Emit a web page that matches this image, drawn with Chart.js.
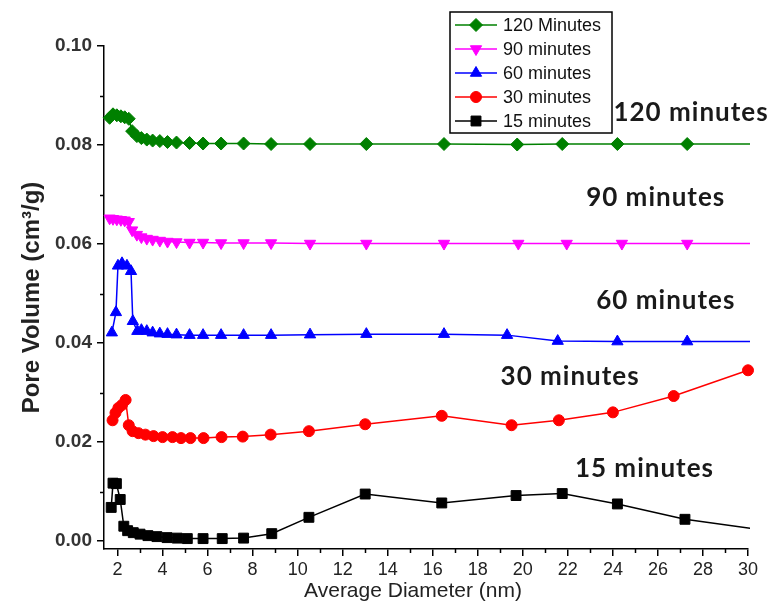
<!DOCTYPE html>
<html>
<head>
<meta charset="utf-8">
<script src="https://cdn.jsdelivr.net/npm/chart.js@4/dist/chart.umd.min.js"></script>
<style>
  html, body { margin: 0; padding: 0; background: #fff; }
  #wrap { width: 768px; height: 605px; position: relative; }
</style>
</head>
<body>
<div id="wrap"><canvas id="c" width="768" height="605"></canvas></div>
<script>
// Pore size distribution (BJH) after different treatment times
const seriesLabels = ['120 Minutes', '90 minutes', '60 minutes', '30 minutes', '15 minutes'];
const curveNames = ['120 minutes', '90 minutes', '60 minutes', '30 minutes', '15 minutes'];

// average diameter (nm) and pore volume (cm3/g) per series
const diam120 = [1.65, 1.8, 1.97, 2.15, 2.32, 2.5, 2.65, 2.86, 3.06, 3.3, 3.56, 3.88, 4.22, 4.62, 5.2, 5.8, 6.6, 7.6, 8.82, 10.55, 13.05, 16.5, 19.75, 21.75, 24.2, 27.3, 31.0];
const vol120  = [0.0855, 0.0862, 0.0860, 0.0858, 0.0856, 0.0853, 0.0828, 0.0818, 0.0814, 0.0811, 0.0809, 0.0808, 0.0806, 0.0805, 0.0804, 0.0803, 0.0803, 0.0803, 0.0802, 0.0802, 0.0802, 0.0802, 0.0801, 0.0802, 0.0802, 0.0802, 0.0802];

const diam90 = [1.65, 1.8, 1.97, 2.15, 2.32, 2.5, 2.65, 2.86, 3.06, 3.3, 3.56, 3.88, 4.22, 4.62, 5.2, 5.8, 6.6, 7.6, 8.82, 10.55, 13.05, 16.5, 19.8, 21.95, 24.4, 27.3, 31.0];
const vol90  = [0.0652, 0.0651, 0.0650, 0.0649, 0.0648, 0.0645, 0.0628, 0.0619, 0.0614, 0.0611, 0.0609, 0.0607, 0.0605, 0.0604, 0.0603, 0.0603, 0.0602, 0.0602, 0.0602, 0.0601, 0.0601, 0.0601, 0.0601, 0.0601, 0.0601, 0.0601, 0.0601];

const diam60 = [1.75, 1.93, 2.02, 2.2, 2.42, 2.6, 2.68, 2.88, 3.06, 3.3, 3.56, 3.88, 4.22, 4.62, 5.2, 5.8, 6.6, 7.6, 8.82, 10.55, 13.05, 16.5, 19.3, 21.55, 24.2, 27.3, 31.0];
const vol60  = [0.0421, 0.0462, 0.0556, 0.0561, 0.0556, 0.0545, 0.0444, 0.0424, 0.0426, 0.0424, 0.0421, 0.0419, 0.0418, 0.0417, 0.0416, 0.0416, 0.0416, 0.0416, 0.0416, 0.0417, 0.0418, 0.0418, 0.0416, 0.0404, 0.0403, 0.0403, 0.0403];

const diam30 = [1.78, 1.91, 2.04, 2.2, 2.36, 2.5, 2.67, 2.93, 3.24, 3.6, 4.0, 4.44, 4.82, 5.24, 5.82, 6.62, 7.56, 8.8, 10.5, 13.0, 16.4, 19.5, 21.6, 24.0, 26.7, 30.0];
const vol30  = [0.0244, 0.0259, 0.0269, 0.0275, 0.0285, 0.0234, 0.0222, 0.0218, 0.0215, 0.0212, 0.0210, 0.0210, 0.0208, 0.0208, 0.0208, 0.0210, 0.0211, 0.0215, 0.0222, 0.0236, 0.0253, 0.0234, 0.0244, 0.0260, 0.0293, 0.0345];

const diam15 = [1.72, 1.8, 1.95, 2.12, 2.28, 2.45, 2.7, 3.0, 3.35, 3.75, 4.2, 4.65, 5.1, 5.8, 6.65, 7.6, 8.85, 10.5, 13.0, 16.4, 19.7, 21.75, 24.2, 27.2, 31.0];
const vol15  = [0.0068, 0.0117, 0.0116, 0.0084, 0.0030, 0.0021, 0.0017, 0.0014, 0.0011, 0.0009, 0.0007, 0.0006, 0.0005, 0.0005, 0.0005, 0.0006, 0.0015, 0.0048, 0.0095, 0.0077, 0.0092, 0.0096, 0.0075, 0.0044, 0.0020];

// axis ticks
const xTicks = [2, 4, 6, 8, 10, 12, 14, 16, 18, 20, 22, 24, 26, 28, 30];
const xMinorTicks = [3, 5, 7, 9, 11, 13, 15, 17, 19, 21, 23, 25, 27, 29];
const yTicks = [0, 0.02, 0.04, 0.06, 0.08, 0.10];
const yMinorTicks = [0.01, 0.03, 0.05, 0.07, 0.09];

const pairs = (xs, ys) => xs.map((x, i) => ({ x: x, y: ys[i] }));

const SANS = "'Liberation Sans', Arial, sans-serif";
const LABEL_FONT = "Lato, 'Open Sans', sans-serif";

const styles = [
  { color: '#008000', pointStyle: 'rectRot', radius: 6.5, rotation: 0 },
  { color: '#ff00ff', pointStyle: 'triangle', radius: 6.5, rotation: 180 },
  { color: '#0000ff', pointStyle: 'triangle', radius: 6.5, rotation: 0 },
  { color: '#ff0000', pointStyle: 'circle', radius: 5.5, rotation: 0 },
  { color: '#000000', pointStyle: 'rect', radius: 7, rotation: 0 }
];
const seriesData = [
  pairs(diam120, vol120), pairs(diam90, vol90), pairs(diam60, vol60),
  pairs(diam30, vol30), pairs(diam15, vol15)
];

const datasets = seriesData.map((d, i) => ({
  label: seriesLabels[i],
  data: d,
  borderColor: styles[i].color,
  backgroundColor: styles[i].color,
  pointBackgroundColor: styles[i].color,
  pointBorderColor: styles[i].color,
  pointStyle: styles[i].pointStyle,
  pointRadius: styles[i].radius,
  pointRotation: styles[i].rotation,
  pointBorderWidth: 1,
  borderWidth: 1.5,
  tension: 0,
  fill: false,
  clip: i === 3 ? 8 : { left: 10, top: 10, right: 2, bottom: 10 }
}));

// curve labels placed in data coordinates, plus minor ticks, legend and x title
const curveLabelAnchors = [
  [27.47, 0.0865], [25.9, 0.0693], [26.35, 0.0485], [22.1, 0.0333], [25.4, 0.0147]
];

const extras = {
  id: 'extras',
  afterDraw(chart) {
    const ctx = chart.ctx;
    const xs = chart.scales.x, ys = chart.scales.y;
    const area = chart.chartArea;
    ctx.save();

    // minor ticks
    ctx.strokeStyle = '#000';
    ctx.lineWidth = 1.5;
    ctx.beginPath();
    xMinorTicks.forEach(v => {
      const px = Math.round(xs.getPixelForValue(v)) + 0.5;
      ctx.moveTo(px, area.bottom);
      ctx.lineTo(px, area.bottom + 4);
    });
    yMinorTicks.forEach(v => {
      const py = Math.round(ys.getPixelForValue(v)) + 0.5;
      ctx.moveTo(area.left, py);
      ctx.lineTo(area.left - 4, py);
    });
    ctx.stroke();

    // curve labels
    ctx.fillStyle = '#1a1a1a';
    ctx.font = "bold 26px " + LABEL_FONT;
    ctx.letterSpacing = '1px';
    ctx.textAlign = 'center';
    ctx.textBaseline = 'middle';
    curveNames.forEach((t, i) => {
      ctx.fillText(t, xs.getPixelForValue(curveLabelAnchors[i][0]), ys.getPixelForValue(curveLabelAnchors[i][1]));
    });
    ctx.letterSpacing = '0px';

    // x axis title
    ctx.fillStyle = '#222';
    ctx.font = "21px " + SANS;
    ctx.fillText('Average Diameter (nm)', 413, 591);

    // legend
    const box = { left: 450, top: 12, right: 612, bottom: 133 };
    ctx.fillStyle = '#fff';
    ctx.fillRect(box.left, box.top, box.right - box.left, box.bottom - box.top);
    ctx.strokeStyle = '#000';
    ctx.lineWidth = 1.5;
    ctx.strokeRect(box.left, box.top, box.right - box.left, box.bottom - box.top);
    ctx.font = "18px " + SANS;
    ctx.textAlign = 'left';
    chart.data.datasets.forEach((ds, i) => {
      const y = 25 + i * 24;
      ctx.strokeStyle = ds.borderColor;
      ctx.lineWidth = 1.5;
      ctx.beginPath();
      ctx.moveTo(455, y);
      ctx.lineTo(497, y);
      ctx.stroke();
      ctx.fillStyle = ds.pointBackgroundColor;
      ctx.strokeStyle = ds.pointBorderColor;
      ctx.lineWidth = 1;
      Chart.helpers.drawPoint(ctx, {
        pointStyle: ds.pointStyle, radius: ds.pointRadius,
        rotation: ds.pointRotation, borderWidth: 1
      }, 476, y);
      ctx.fillStyle = '#111';
      ctx.fillText(ds.label, 503, y + 1);
    });
    ctx.restore();
  }
};

new Chart(document.getElementById('c'), {
  type: 'line',
  data: { datasets: datasets },
  plugins: [extras],
  options: {
    responsive: false,
    animation: false,
    devicePixelRatio: 1,
    layout: { padding: { left: 18, right: 20, top: 46, bottom: 2 } },
    plugins: { legend: { display: false }, tooltip: { enabled: false } },
    scales: {
      x: {
        type: 'linear',
        min: 1.4,
        max: 30,
        afterBuildTicks: s => { s.ticks = xTicks.map(v => ({ value: v })); },
        afterFit: s => { s.height = 54; },
        grid: { drawOnChartArea: false, drawTicks: true, tickLength: 7, color: '#000', lineWidth: 1.5 },
        border: { display: true, color: '#000', width: 1.5 },
        ticks: {
          autoSkip: false, maxRotation: 0, padding: 3,
          color: '#222',
          font: { family: SANS, size: 18 },
          callback: v => String(v)
        }
      },
      y: {
        type: 'linear',
        min: -0.0016,
        max: 0.1,
        afterBuildTicks: s => { s.ticks = yTicks.map(v => ({ value: v })); },
        afterFit: s => { s.width = 86; },
        grid: { drawOnChartArea: false, drawTicks: true, tickLength: 7, color: '#000', lineWidth: 1.5 },
        border: { display: true, color: '#000', width: 1.5 },
        ticks: {
          padding: 5,
          color: '#333',
          font: { family: SANS, size: 19, weight: 'bold' },
          callback: v => v.toFixed(2)
        },
        title: {
          display: true,
          text: 'Pore Volume (cm³/g)',
          color: '#222',
          font: { family: SANS, size: 24, weight: 'bold' },
          padding: { top: 0, bottom: 0 }
        }
      }
    }
  }
});
</script>
</body>
</html>
